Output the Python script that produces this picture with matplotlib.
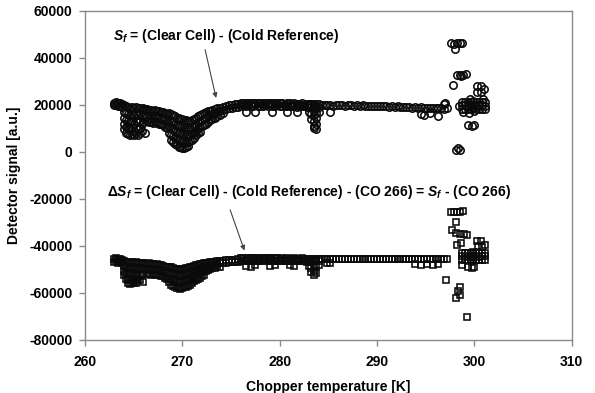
import matplotlib
matplotlib.use("Agg")
import matplotlib.pyplot as plt
import numpy as np

plt.rcParams['font.family'] = ['Liberation Sans', 'DejaVu Sans']
plt.rcParams['font.weight'] = 'bold'
plt.rcParams['mathtext.fontset'] = 'custom'
plt.rcParams['mathtext.it'] = 'Liberation Sans:bold:italic'
plt.rcParams['mathtext.rm'] = 'Liberation Sans:bold'
plt.rcParams['mathtext.bf'] = 'Liberation Sans:bold'

# ---------------- data: S_f (circles), band columns ----------------
s1_col_t = [263.0, 263.2, 263.4, 263.6, 263.8,
            264.0, 264.2, 264.4, 264.6, 264.8, 265.0, 265.2, 265.4, 265.6, 265.8, 266.0, 266.2,
            266.4, 266.6, 266.8, 267.0, 267.2, 267.4, 267.6, 267.8, 268.0, 268.2, 268.4,
            268.6, 268.8, 269.0, 269.2, 269.4, 269.6, 269.8, 270.0, 270.2, 270.4, 270.6, 270.8, 271.0,
            271.2, 271.4, 271.6, 271.8, 272.0, 272.2, 272.4, 272.6, 272.8, 273.0, 273.3, 273.6, 273.9,
            274.2, 274.5, 274.8, 275.1, 275.4, 275.7,
            276.0, 276.25, 276.5, 276.75, 277.0, 277.25, 277.5, 277.75, 278.0, 278.25, 278.5, 278.75,
            279.0, 279.25, 279.5, 279.75, 280.0, 280.25, 280.5, 280.75, 281.0, 281.25, 281.5, 281.75,
            282.0, 282.25, 282.5, 282.75,
            283.0, 283.25, 283.5, 283.75, 284.0,
            284.3, 284.6, 284.9, 285.2, 285.5, 285.8, 286.1, 286.4, 286.7, 287.0, 287.3, 287.6, 287.9,
            288.2, 288.5, 288.8, 289.1, 289.4, 289.7, 290.0, 290.3, 290.6, 290.9, 291.2, 291.5, 291.8,
            292.1, 292.4, 292.7, 293.0, 293.3, 293.6, 293.9, 294.2, 294.5, 294.8, 295.1, 295.4, 295.7,
            296.0, 296.3, 296.6, 296.9, 297.2]
s1_col_v = [
    [20800, 19800], [21200, 20000], [20600, 19400], [20900, 19600], [20300, 19000],
    [19800, 17000, 14500, 12000, 9500], [19500, 16500, 13500, 10500, 8000],
    [19000, 16000, 13000, 10000, 7500], [18800, 15500, 12500, 9500, 7000],
    [19200, 16000, 13000, 10000, 7500], [18600, 15500, 12000, 9000, 7200],
    [18900, 16000, 13000, 10000, 7800], [18500, 15500, 12500, 9500, 7000],
    [18700, 16000, 13000, 10000, 8000], [18200, 15000, 12000, 9000],
    [18400, 15500, 12500], [18000, 15000, 8000],
    [18000, 15000, 13000], [17600, 14500, 12500], [17800, 15000, 12800], [17400, 14500, 12300],
    [17700, 15000, 12600], [17300, 14600, 12200], [17500, 14800, 12000], [17000, 14300, 11800],
    [16800, 14000, 11500], [16500, 13500, 10500], [16000, 13000, 10000],
    [16500, 13500, 10500, 8000], [16000, 13000, 10000, 7000, 5000],
    [15500, 12500, 9500, 6500, 4000], [15000, 12000, 9000, 6000, 3500],
    [14500, 11500, 8500, 5500, 3000], [14500, 11500, 8000, 5000, 2200],
    [14000, 11000, 8000, 5000, 2000], [14000, 11000, 7500, 4500, 1500],
    [13500, 10500, 7500, 4500, 1800], [13500, 10500, 7000, 4000, 2000],
    [13000, 10000, 7000, 4000, 2500], [13000, 10000, 7000, 4500], [13500, 10500, 7500, 5000],
    [14000, 11000, 8000, 6000], [14500, 11500, 9000, 7000], [15000, 12500, 10000, 8000],
    [15500, 13000, 10500, 8500], [16000, 13500, 11000], [16500, 14000, 11500],
    [16800, 14500, 12000], [17200, 15000, 12500], [17500, 15500, 13500], [17800, 16000, 14000],
    [18200, 16500, 14500], [18500, 17000, 15000], [18800, 17500, 15800],
    [19200, 17800, 16500], [19500, 18200], [19700, 18500], [19900, 18800], [20100, 19000],
    [20200, 19200],
    [20600, 19500], [20800, 19700], [20700, 19600, 16800], [20900, 19800], [20800, 19600],
    [20700, 19500], [20900, 19700, 16900], [20800, 19600], [20600, 19500], [20800, 19600],
    [20900, 19800], [20700, 19500], [20800, 19700], [20600, 19500, 16700], [20700, 19600],
    [20800, 19700], [20600, 19400], [20700, 19500], [20500, 19300], [20600, 19500, 16900],
    [20700, 19600], [20500, 19300], [20600, 19500], [20400, 19200, 16800], [20500, 19400],
    [20600, 19500], [20400, 19300], [20300, 19200],
    [20400, 19300, 17000], [20300, 19200, 16000, 14000],
    [20400, 19300, 17500, 15500, 13000, 11000, 10000],
    [20300, 19200, 16500, 14500, 12000, 9800], [20200, 19100, 17000],
    [19900], [19700], [19900], [19800, 16900], [19600], [19800], [19700], [19900], [19600],
    [19800], [19700], [19500], [19700], [19600], [19800], [19500], [19600], [19400], [19600],
    [19500], [19300], [19500], [19400], [19200], [19400], [19100], [19300], [19000], [19200],
    [18900], [19100], [18800], [19000], [18700], [18900, 16000], [18600, 15700], [18800],
    [18500, 16500], [18700], [18400], [18600, 15000], [18500], [18300, 20500], [18400]]

# S_f scattered points near 297-301 K
s1_out_t = [297.6, 297.9, 298.2, 298.5, 298.7, 298.0,
            298.2, 298.5, 298.8, 299.1, 298.6, 297.8,
            300.3, 300.7, 300.3, 300.7, 301.0,
            298.7, 299.0, 299.3, 299.6, 299.9, 300.2, 300.5, 300.8, 301.1,
            298.7, 299.0, 299.3, 299.6, 299.9, 300.2, 300.5, 300.8, 301.1,
            298.7, 299.0, 299.3, 299.6, 299.9, 300.2, 300.5, 300.8, 301.1,
            298.8, 299.4, 300.0, 300.9, 299.5, 298.4, 297.0,
            299.3, 299.7, 300.0, 298.1, 298.5, 298.3]
s1_out_v = [46200, 46000, 46300, 46100, 46200, 43600,
            32500, 32800, 32600, 32900, 32300, 28500,
            27800, 27800, 25200, 25200, 26500,
            21200, 21300, 21100, 21200, 21400, 21100, 21200, 21300, 21100,
            19700, 19800, 19600, 19700, 19900, 19600, 19800, 19700, 19600,
            18200, 18300, 18100, 18200, 18400, 18100, 18300, 18200, 18100,
            17000, 16500, 17200, 22300, 22500, 19500, 20700,
            11500, 11000, 11500, 800, 900, 1500]

# ---------------- data: delta S_f (squares), band columns ----------------
d1_col_t = s1_col_t
d1_col_v = [
    [-45600, -46800], [-45300, -46500], [-45800, -47200], [-45500, -47000], [-46000, -47500],
    [-46500, -48500, -50500, -52500], [-46800, -49000, -51500, -54000],
    [-47000, -49500, -52000, -54500, -56000], [-47200, -49500, -52000, -54500, -56200],
    [-46900, -49200, -51800, -54300, -55800], [-47300, -49800, -52300, -54800, -56000],
    [-47000, -49500, -52000, -54500, -55700], [-47400, -49800, -52200, -54600],
    [-47200, -49500, -52000, -54500], [-47500, -50000, -52500],
    [-47300, -49800, -52000, -55200], [-47600, -50000],
    [-47800, -50000, -52000], [-47500, -49800, -51800], [-47900, -50200, -52200],
    [-47600, -49800, -51900], [-48000, -50300, -52300], [-47700, -50000, -52000],
    [-48100, -50400, -52500], [-48300, -50500, -52800], [-48500, -50800, -53000],
    [-48800, -51000, -53500], [-49000, -51500, -54000],
    [-49000, -51500, -54000, -55500], [-49200, -51800, -54300, -56500],
    [-49500, -52000, -54500, -57000], [-49700, -52200, -54800, -57500],
    [-49800, -52300, -55000, -57800], [-50000, -52500, -55200, -58000],
    [-50200, -52700, -55300, -58200], [-50000, -52500, -55000, -57900],
    [-49800, -52300, -54800, -57700], [-49500, -52000, -54500, -57500],
    [-49300, -51800, -54300, -57000], [-49000, -51500, -54000, -56500],
    [-48800, -51200, -53500, -56000],
    [-48500, -50800, -53000, -55000], [-48300, -50500, -52500, -54500],
    [-48000, -50000, -52000, -54000], [-47800, -49800, -51500, -53500],
    [-47600, -49500, -51000, -53000], [-47500, -49200, -50800, -52500],
    [-47300, -49000, -50500], [-47200, -48800, -50200], [-47000, -48500, -50000],
    [-46900, -48200, -49500], [-46700, -48000, -49300], [-46500, -47800, -49000],
    [-46400, -47500, -48800],
    [-46300, -47300], [-46200, -47200], [-46100, -47000], [-46000, -46900], [-45900, -46800],
    [-45800, -46700],
    [-45300, -46400], [-45200, -46300], [-45400, -46500, -48500], [-45200, -46300],
    [-45300, -46400, -48800], [-45100, -46200], [-45300, -46400, -48300], [-45200, -46300],
    [-45400, -46500], [-45200, -46300], [-45100, -46200], [-45300, -46400],
    [-45200, -46300, -48400], [-45400, -46500], [-45300, -46400, -48000], [-45200, -46300],
    [-45400, -46500], [-45300, -46400], [-45500, -46600], [-45300, -46400],
    [-45400, -46500, -48200], [-45500, -46600], [-45300, -46400, -48500], [-45500, -46600],
    [-45400, -46500], [-45300, -46400], [-45500, -46600], [-45600, -46700],
    [-45400, -46500, -48500], [-45500, -46600, -49500, -51000],
    [-45400, -46500, -48500, -50500, -52500], [-45500, -46600, -49000, -51500],
    [-45400, -46500, -48200],
    [-45600], [-45800], [-45500, -47500], [-45700, -47200], [-45600], [-45800], [-45500],
    [-45700], [-45600], [-45800], [-45500], [-45700], [-45600], [-45800], [-45500], [-45700],
    [-45600], [-45800], [-45500], [-45700], [-45600], [-45800], [-45700], [-45500], [-45700],
    [-45600], [-45800], [-45600], [-45700], [-45500], [-45700], [-45600], [-45800, -47600],
    [-45600], [-45700, -48000], [-45600], [-45800, -47600], [-45600], [-45700, -48200],
    [-45800], [-45600, -47800], [-45700], [-45600], [-45800]]

d1_out_t = [297.6, 297.9, 298.2, 298.5, 298.8,
            298.1, 297.7,
            298.1, 298.5, 298.9, 299.2,
            298.2, 298.6,
            300.3, 300.7, 300.4, 300.8, 301.1,
            298.7, 299.0, 299.3, 299.6, 299.9, 300.2, 300.5, 300.8, 301.1,
            298.7, 299.0, 299.3, 299.6, 299.9, 300.2, 300.5, 300.8, 301.1,
            298.7, 299.0, 299.3, 299.6, 299.9, 300.2, 300.5, 300.8, 301.1,
            298.7, 299.3, 299.7, 300.0,
            297.1, 298.5, 298.3, 298.5, 298.1, 299.2]
d1_out_v = [-25500, -25600, -25400, -25700, -25300,
            -30000, -33200,
            -34700, -35000, -34800, -35200,
            -39600, -38600,
            -37800, -37800, -40000, -40300, -39500,
            -43000, -42900, -43100, -43000, -42800, -43100, -43000, -42900, -43100,
            -44500, -44600, -44400, -44500, -44700, -44400, -44600, -44500, -44400,
            -46000, -46100, -45900, -46000, -46200, -45900, -46100, -46000, -45900,
            -48000, -48800, -49500, -49000,
            -54500, -57600, -59400, -60800, -62200, -70100]

x_ticks = [260, 270, 280, 290, 300, 310]
y_ticks = [-80000, -60000, -40000, -20000, 0, 20000, 40000, 60000]

# ---------------- build flat arrays ----------------
def flatten(col_t, col_v):
    tt, vv = [], []
    for t, vals in zip(col_t, col_v):
        for v in vals:
            tt.append(t)
            vv.append(v)
    return tt, vv

s1_t, s1_v = flatten(s1_col_t, s1_col_v)
d1_t, d1_v = flatten(d1_col_t, d1_col_v)
s1_t += s1_out_t
s1_v += s1_out_v
d1_t += d1_out_t
d1_v += d1_out_v

fig = plt.figure(figsize=(5.95, 3.93), dpi=100)
ax = fig.add_axes([0.143, 0.135, 0.818, 0.838])

ax.plot(s1_t, s1_v, ls='none', marker='o', ms=5.3, mfc='none', mec='#0a0a0a', mew=1.15)
ax.plot(d1_t, d1_v, ls='none', marker='s', ms=4.9, mfc='none', mec='#0a0a0a', mew=1.15)

ax.set_xlim(260, 310)
ax.set_ylim(-80000, 60000)
ax.set_xticks(x_ticks)
ax.set_yticks(y_ticks)
ax.set_xticklabels([str(v) for v in x_ticks])
ax.set_yticklabels([str(v) for v in y_ticks])

for sp in ax.spines.values():
    sp.set_color('#8a8a8a')
    sp.set_linewidth(1.0)
ax.tick_params(axis='both', direction='out', length=4, width=1.0, color='#8a8a8a',
               labelsize=10, labelcolor='black')
ax.tick_params(axis='x', pad=7)
ax.tick_params(axis='y', pad=5)

ax.set_xlabel('Chopper temperature [K]', fontsize=10, fontweight='bold', labelpad=8)
ax.set_ylabel('Detector signal [a.u.]', fontsize=10, fontweight='bold', labelpad=6)

ax.text(262.88, 49150, r'$S_f$ = (Clear Cell) - (Cold Reference)', fontsize=10,
        fontweight='bold', ha='left', va='center')
ax.text(262.23, -17200, r'Δ$S_f$ = (Clear Cell) - (Cold Reference) - (CO 266) = $S_f$ - (CO 266)',
        fontsize=10, fontweight='bold', ha='left', va='center')

ax.annotate('', xy=(273.46, 22850), xytext=(272.33, 43400),
            arrowprops=dict(arrowstyle='-|>', color='#444444', lw=0.8, mutation_scale=7,
                            shrinkA=0, shrinkB=0))
ax.annotate('', xy=(276.37, -42000), xytext=(274.9, -24700),
            arrowprops=dict(arrowstyle='-|>', color='#444444', lw=0.8, mutation_scale=7,
                            shrinkA=0, shrinkB=0))

fig.savefig('out.png', dpi=100)
